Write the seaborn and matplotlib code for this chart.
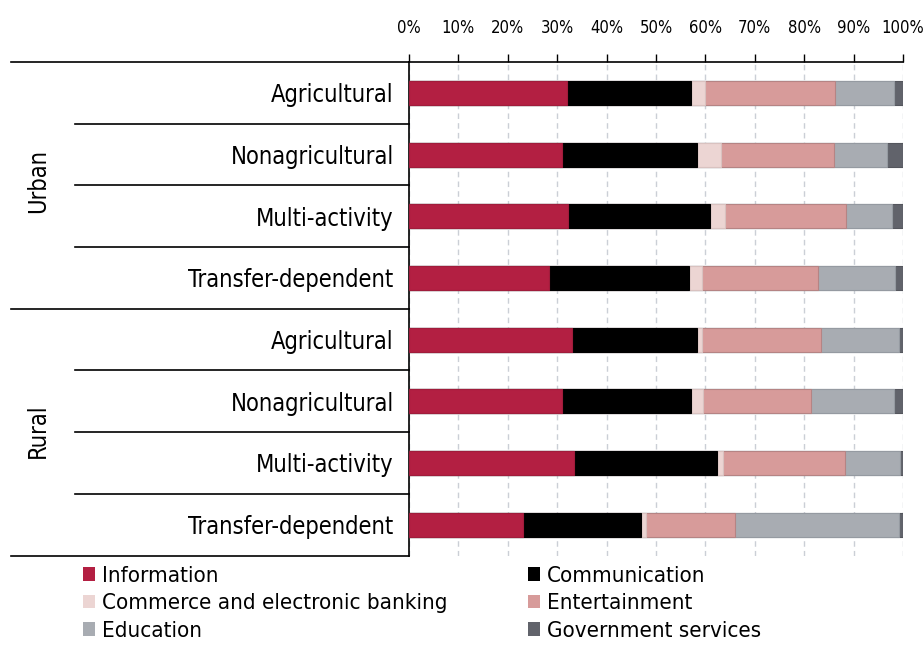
import matplotlib
matplotlib.use("Agg")
import matplotlib.pyplot as plt
import matplotlib.font_manager as fm
import pandas as pd
import seaborn as sns
from matplotlib.patches import Patch
from matplotlib.transforms import blended_transform_factory
from matplotlib.ticker import PercentFormatter

groups = ["Urban"] * 4 + ["Rural"] * 4
households = ["Agricultural", "Nonagricultural", "Multi-activity", "Transfer-dependent"] * 2

information = [31.9, 31.0, 32.2, 28.3, 32.9, 30.9, 33.4, 23.1]
communication = [25.2, 27.4, 28.8, 28.3, 25.4, 26.1, 29.0, 23.8]
commerce = [2.8, 4.8, 3.0, 2.7, 1.0, 2.5, 1.1, 1.0]
entertainment = [26.3, 22.8, 24.5, 23.4, 24.2, 21.9, 24.8, 18.1]
education = [12.0, 10.7, 9.2, 15.6, 15.6, 16.8, 11.0, 33.1]
government = [1.8, 3.3, 2.3, 1.7, 0.9, 1.8, 0.7, 0.9]

services = ["Information", "Communication", "Commerce and electronic banking",
            "Entertainment", "Education", "Government services"]
colors = ["#B31F42", "#000000", "#ECD5D3", "#D79B9A", "#A8ACB2", "#61636B"]
edges = ["#A01C3B", "#000000", "#D9C2C0", "#B58484", "#959AA1", "#54565D"]

df = pd.DataFrame({
    "row": [f"{g}|{h}" for g, h in zip(groups, households)],
    "Information": information,
    "Communication": communication,
    "Commerce and electronic banking": commerce,
    "Entertainment": entertainment,
    "Education": education,
    "Government services": government,
})
cum = df[services].cumsum(axis=1)
cum["row"] = df["row"]

# narrow face: DejaVu Sans Condensed
plt.rcParams['font.family'] = ['DejaVu Sans']
plt.rcParams['font.stretch'] = 'condensed'
cat_fs, tick_fs, leg_fs = 17, 12, 16

fig = plt.figure(figsize=(9.24, 6.45), dpi=100)
ax = fig.add_axes([409 / 924, 1 - 555.5 / 645, (903 - 409) / 924, (555.5 - 62) / 645])

# stacked bars: draw cumulative totals from the longest down
for s, c, e in reversed(list(zip(services, colors, edges))):
    sns.barplot(data=cum, x=s, y="row", color=c, width=0.39, orient="h",
                edgecolor=e, linewidth=0.8, saturation=1, ax=ax, zorder=3)

ax.set_xlim(0, 100)
ax.set_ylim(7.5, -0.5)
ax.xaxis.set_major_locator(plt.MultipleLocator(10))
ax.xaxis.set_major_formatter(PercentFormatter(decimals=0))
ax.xaxis.tick_top()
ax.tick_params(axis="x", direction="out", length=6, width=1, pad=12, labelsize=tick_fs)
ax.grid(axis="x", color="#CBCFD6", linestyle=(0, (4, 3)), linewidth=1, zorder=0)
ax.set_xlabel("")
ax.set_ylabel("")
ax.set_yticks(range(8))
ax.set_yticklabels(households, fontsize=cat_fs)
ax.tick_params(axis="y", length=0, pad=11)
for side in ["right", "bottom"]:
    ax.spines[side].set_visible(False)
for side in ["top", "left"]:
    ax.spines[side].set_linewidth(1.2)

# left-hand table rules
tr = blended_transform_factory(fig.transFigure, ax.transData)
left_edge = 409 / 924
for yb in [-0.5, 3.5, 7.5]:
    ax.plot([11 / 924, left_edge], [yb, yb], color="black", lw=1.2, transform=tr, clip_on=False)
for yb in [0.5, 1.5, 2.5, 4.5, 5.5, 6.5]:
    ax.plot([75 / 924, left_edge], [yb, yb], color="black", lw=1.2, transform=tr, clip_on=False)

fig.text(38 / 924, 1 - 181 / 645, "Urban", rotation=90, ha="center", va="center", fontsize=cat_fs)
fig.text(38 / 924, 1 - 431 / 645, "Rural", rotation=90, ha="center", va="center", fontsize=cat_fs)

order = [0, 2, 4, 1, 3, 5]
handles = [Patch(facecolor=colors[i], edgecolor="none") for i in order]
labels = [services[i] for i in order]
fig.legend(handles, labels, ncol=2, loc="upper left", bbox_to_anchor=(83 / 924, 1 - 566 / 645),
           frameon=False, fontsize=leg_fs, handlelength=0.55, handleheight=0.55,
           handletextpad=0.32, labelspacing=0.33, columnspacing=3.6, borderaxespad=0, borderpad=0)

fig.savefig("out.png", dpi=100)
